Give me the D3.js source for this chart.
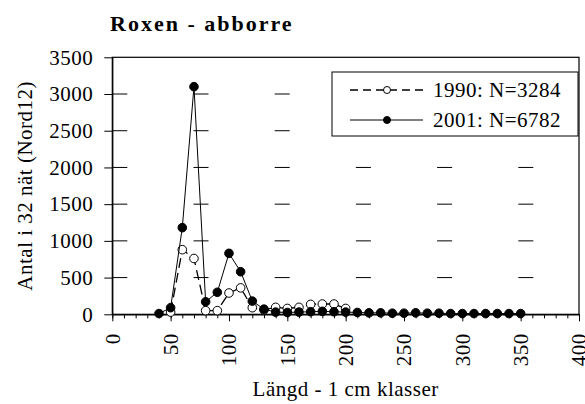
<!DOCTYPE html>
<html>
<head>
<meta charset="utf-8">
<script src="https://cdn.jsdelivr.net/npm/d3@7"></script>
<style>
  body { margin: 0; background: #fff; }
  svg { display: block; }
  .chart__text { font-family: "Liberation Serif", "Times New Roman", serif; font-size: 21px; letter-spacing: 0.5px; fill: #000; }
  .chart__title { font-family: "Liberation Serif", "Times New Roman", serif; font-size: 22px; font-weight: bold; letter-spacing: 2px; fill: #000; }
</style>
</head>
<body>
<div id="chart"></div>
<script>
// Length classes (x) and catch per 32 nets (y)
const lengths1990 = [50, 60, 70, 80, 90, 100, 110, 120, 130, 140, 150, 160, 170, 180, 190, 200];
const counts1990 = [30, 880, 760, 50, 50, 290, 360, 90, 60, 95, 80, 95, 135, 140, 140, 80];

const lengths2001 = [40, 50, 60, 70, 80, 90, 100, 110, 120, 130, 140, 150, 160, 170, 180, 190, 200,
  210, 220, 230, 240, 250, 260, 270, 280, 290, 300, 310, 320, 330, 340, 350];
const counts2001 = [10, 90, 1180, 3100, 170, 300, 830, 580, 180, 70, 30, 25, 30, 35, 40, 35, 30,
  25, 20, 20, 15, 15, 20, 15, 15, 10, 10, 10, 10, 10, 10, 10];

const seriesNames = ["1990: N=3284", "2001: N=6782"];
const xTicks = [0, 50, 100, 150, 200, 250, 300, 350, 400];
const yTicks = [0, 500, 1000, 1500, 2000, 2500, 3000, 3500];

const titleText = "Roxen - abborre";
const xTitle = "Längd - 1 cm klasser";
const yTitle = "Antal i 32 nät (Nord12)";

// Chart frame
const W = 585, H = 404;
const margin = { top: 57.3, left: 112.3, right: 6, bottom: 89.7 };
const width = W - margin.left - margin.right;
const height = H - margin.top - margin.bottom;

const svg = d3.select("#chart").append("svg")
  .attr("width", W)
  .attr("height", H);

const x = d3.scaleLinear().domain([0, 400]).range([0, width]);
const y = d3.scaleLinear().domain([0, 3500]).range([height, 0]);

const g = svg.append("g")
  .attr("transform", "translate(" + margin.left + "," + margin.top + ")");

// Dashed grid lines (sparse long-dash pattern)
g.selectAll(".grid")
  .data(yTicks.filter(d => d > 0 && d < 3500))
  .enter()
  .append("line")
  .attr("x1", 0)
  .attr("x2", width)
  .attr("y1", d => y(d))
  .attr("y2", d => y(d))
  .attr("stroke", "#000")
  .attr("stroke-width", 1)
  .attr("stroke-dasharray", "15,66.2");

// Plot border
g.append("rect")
  .attr("width", width)
  .attr("height", height)
  .attr("fill", "none")
  .attr("stroke", "#000")
  .attr("stroke-width", 1.2);

// Y axis
const gY = g.append("g")
  .call(d3.axisLeft(y).tickValues(yTicks).tickFormat(d3.format("d"))
    .tickSize(8).tickSizeOuter(0).tickPadding(11));
gY.select(".domain").attr("stroke-width", 1.2);
gY.selectAll("text")
  .attr("class", "chart__text");

// X axis: minor ticks
g.append("g")
  .attr("transform", "translate(0," + height + ")")
  .call(d3.axisBottom(x).tickValues(d3.range(0, 401, 10)).tickSize(4).tickSizeOuter(0).tickFormat(""))
  .select(".domain").remove();

// X axis: major ticks and rotated labels
const gX = g.append("g")
  .attr("transform", "translate(0," + height + ")")
  .call(d3.axisBottom(x).tickValues(xTicks).tickFormat(d3.format("d")).tickSize(7).tickSizeOuter(0));
gX.select(".domain").attr("stroke-width", 1.2);
gX.selectAll("text")
  .attr("class", "chart__text")
  .attr("transform", "rotate(-90)")
  .attr("x", -19)
  .attr("y", 0)
  .attr("dy", "0.33em")
  .style("text-anchor", "end");

// Series lines and markers
const line = d3.line()
  .x(d => x(d[0]))
  .y(d => y(d[1]));

const series = [
  { pts: d3.zip(lengths1990, counts1990), dash: "10,5", fill: "#fff", width: 1.3 },
  { pts: d3.zip(lengths2001, counts2001), dash: null, fill: "#000", width: 1 }
];

series.forEach(s => {
  g.append("path")
    .attr("d", line(s.pts))
    .attr("fill", "none")
    .attr("stroke", "#000")
    .attr("stroke-width", s.width)
    .attr("stroke-dasharray", s.dash);
  g.selectAll(null)
    .data(s.pts)
    .enter()
    .append("circle")
    .attr("cx", d => x(d[0]))
    .attr("cy", d => y(d[1]))
    .attr("r", 4.3)
    .attr("fill", s.fill)
    .attr("stroke", "#000")
    .attr("stroke-width", 1);
});

// Legend
const lg = svg.append("g").attr("transform", "translate(332,72)");
lg.append("rect")
  .attr("width", 246)
  .attr("height", 64)
  .attr("fill", "#fff")
  .attr("stroke", "#000")
  .attr("stroke-width", 1);

series.forEach((s, i) => {
  const ly = 18 + i * 30;
  lg.append("line")
    .attr("x1", 18).attr("x2", 91)
    .attr("y1", ly).attr("y2", ly)
    .attr("stroke", "#000")
    .attr("stroke-width", s.width)
    .attr("stroke-dasharray", s.dash ? "8,5" : null);
  lg.append("circle")
    .attr("cx", 55).attr("cy", ly)
    .attr("r", 3.5)
    .attr("fill", s.fill)
    .attr("stroke", "#000");
  lg.append("text")
    .attr("class", "chart__text")
    .attr("x", 101)
    .attr("y", ly + 7)
    .text(seriesNames[i]);
});

// Titles
svg.append("text")
  .attr("class", "chart__title")
  .attr("x", 110)
  .attr("y", 31)
  .text(titleText);

svg.append("text")
  .attr("class", "chart__text")
  .attr("x", margin.left + width / 2)
  .attr("y", 396)
  .attr("text-anchor", "middle")
  .text(xTitle);

svg.append("text")
  .attr("class", "chart__text")
  .attr("transform", "translate(32," + (margin.top + height / 2) + ") rotate(-90)")
  .attr("text-anchor", "middle")
  .text(yTitle);
</script>
</body>
</html>
